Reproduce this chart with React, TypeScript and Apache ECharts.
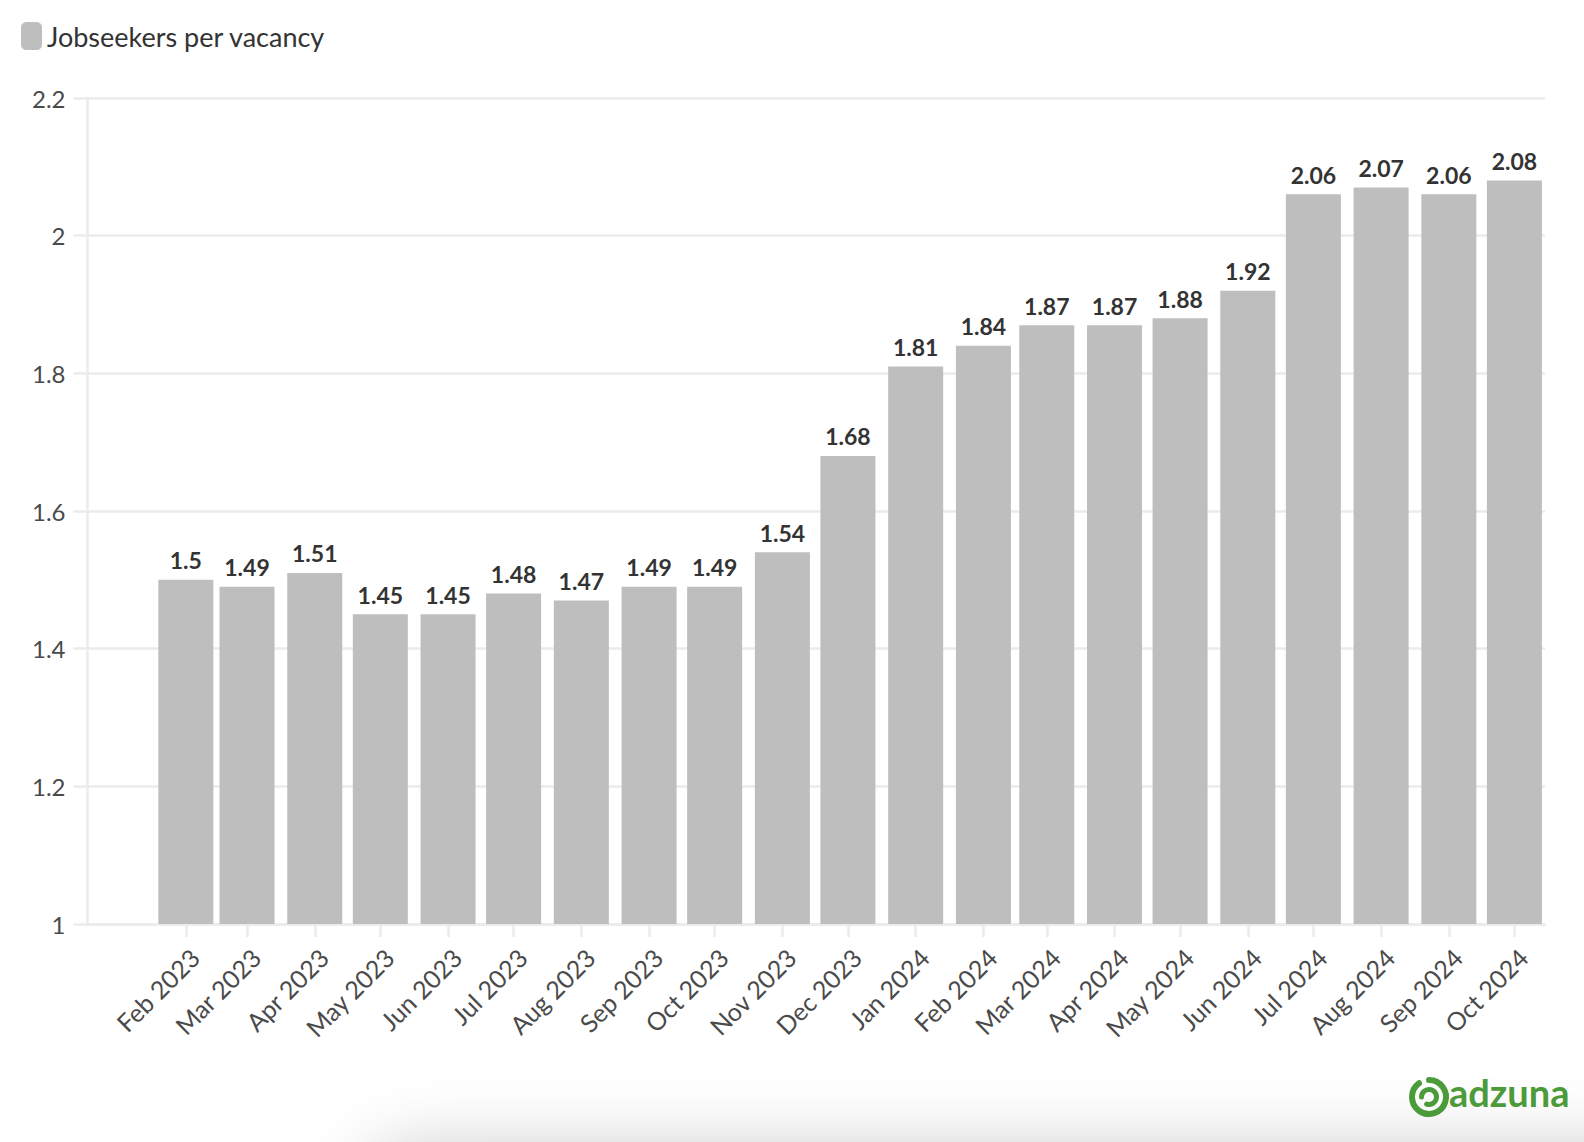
import { useEffect, useRef } from "react";
import * as echarts from "echarts";

const months = [
  "Feb 2023", "Mar 2023", "Apr 2023", "May 2023", "Jun 2023", "Jul 2023",
  "Aug 2023", "Sep 2023", "Oct 2023", "Nov 2023", "Dec 2023", "Jan 2024",
  "Feb 2024", "Mar 2024", "Apr 2024", "May 2024", "Jun 2024", "Jul 2024",
  "Aug 2024", "Sep 2024", "Oct 2024",
];

const jobseekers = [
  1.5, 1.49, 1.51, 1.45, 1.45, 1.48, 1.47, 1.49, 1.49, 1.54, 1.68, 1.81,
  1.84, 1.87, 1.87, 1.88, 1.92, 2.06, 2.07, 2.06, 2.08,
];

const monthNames = ["Jan", "Feb", "Mar", "Apr", "May", "Jun", "Jul", "Aug", "Sep", "Oct", "Nov", "Dec"];

// axis range runs a little past the first and last month
const axisStart = new Date(2022, 11, 18).getTime();
const axisEnd = new Date(2024, 9, 15).getTime();

const toTime = (label: string) => {
  const [m, y] = label.split(" ");
  return new Date(Number(y), monthNames.indexOf(m), 1).getTime();
};

const fmtMonth = (v: number) => {
  const d = new Date(v);
  return `${monthNames[d.getMonth()]} ${d.getFullYear()}`;
};

const FONT = "Lato, 'Noto Sans', sans-serif";
const GRID_COLOR = "#ebebeb";
const GREEN = "#4b9b3a";

export default function App() {
  const chartRef = useRef<HTMLDivElement>(null);

  useEffect(() => {
    if (!chartRef.current) return;
    const chart = echarts.init(chartRef.current, null, { renderer: "svg" });

    const ticks = months.map(toTime);

    const option = {
      backgroundColor: "#ffffff",
      animation: false,
      textStyle: { fontFamily: FONT },
      legend: {
        left: 21,
        top: 22,
        padding: 0,
        icon: "roundRect",
        itemWidth: 21,
        itemHeight: 28,
        itemGap: 7,
        textStyle: { fontSize: 27, color: "#333333", fontFamily: FONT },
        data: ["Jobseekers per vacancy"],
      },
      grid: { left: 87.5, right: 39, top: 98, bottom: 218 },
      xAxis: {
        // timestamps on a value axis, so months keep their real spacing
        type: "value",
        min: axisStart,
        max: axisEnd,
        axisLine: { show: true, lineStyle: { color: GRID_COLOR, width: 2.5 } },
        axisTick: {
          show: true,
          length: 13,
          customValues: ticks,
          lineStyle: { color: GRID_COLOR, width: 2.5 },
        },
        axisLabel: {
          customValues: ticks,
          rotate: 45,
          margin: 20,
          verticalAlign: "top",
          fontSize: 25,
          color: "#4a4a4a",
          fontFamily: FONT,
          formatter: (v: number) => fmtMonth(v),
        },
        splitLine: { show: false },
      },
      yAxis: {
        type: "value",
        min: 1,
        max: 2.2,
        interval: 0.2,
        axisLine: { show: true, lineStyle: { color: GRID_COLOR, width: 2.5 } },
        axisTick: { show: true, length: 14, lineStyle: { color: GRID_COLOR, width: 2.5 } },
        axisLabel: { margin: 22, fontSize: 24, color: "#4a4a4a", fontFamily: FONT },
        splitLine: { lineStyle: { color: GRID_COLOR, width: 2.5 } },
      },
      series: [
        {
          name: "Jobseekers per vacancy",
          type: "bar",
          barWidth: 55,
          data: ticks.map((t, i) => [t, jobseekers[i]]),
          itemStyle: { color: "#bebebe" },
          label: {
            show: true,
            position: "top",
            distance: 8,
            fontSize: 23,
            fontWeight: "bold",
            color: "#333333",
            fontFamily: FONT,
            formatter: (p: any) => String(p.value[1]),
          },
        },
      ],
      graphic: [
        {
          // soft shadow along the bottom edge
          type: "rect",
          z: -10,
          silent: true,
          shape: { x: 360, y: 1165, width: 1500, height: 120, r: 60 },
          style: {
            fill: "#ffffff",
            shadowBlur: 70,
            shadowColor: "rgba(0,0,0,0.22)",
            shadowOffsetY: -15,
          },
        },
        {
          type: "group",
          silent: true,
          children: [
            {
              type: "arc",
              shape: { cx: 1429, cy: 1097, r: 17, startAngle: -Math.PI / 2, endAngle: Math.PI * 1.3, clockwise: true },
              style: { stroke: GREEN, lineWidth: 6, fill: "none", lineCap: "round" },
            },
            {
              type: "arc",
              shape: { cx: 1429, cy: 1097, r: 7.5, startAngle: Math.PI, endAngle: Math.PI * 2.6, clockwise: true },
              style: { stroke: GREEN, lineWidth: 5, fill: "none", lineCap: "round" },
            },
            {
              type: "text",
              x: 1449,
              y: 1111,
              style: {
                text: "adzuna",
                fontSize: 38,
                fontWeight: "bold",
                fontFamily: FONT,
                fill: GREEN,
                verticalAlign: "bottom",
              },
            },
          ],
        },
      ],
    };

    chart.setOption(option);

    return () => {
      chart.dispose();
    };
  }, []);

  return (
    <div
      ref={chartRef}
      style={{ position: "absolute", left: 0, top: 0, width: "1584px", height: "1142px" }}
    ></div>
  );
}
